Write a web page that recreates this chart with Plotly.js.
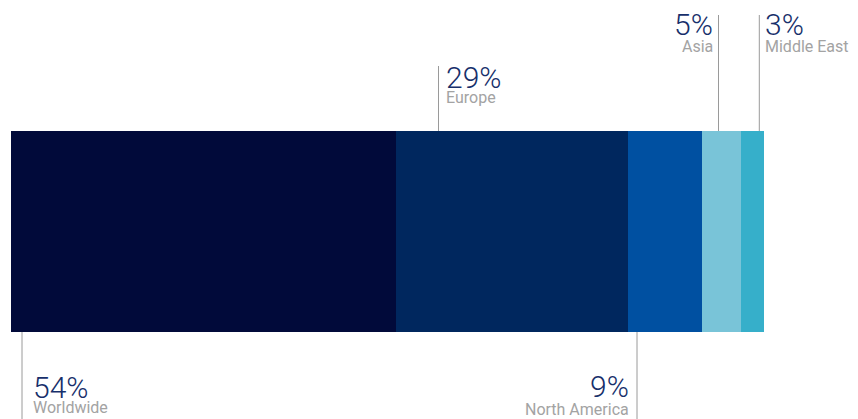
<!DOCTYPE html>
<html>
<head>
<meta charset="utf-8">
<script src="https://cdn.plot.ly/plotly-3.0.1.min.js"></script>
<style>html,body{margin:0;padding:0;background:#fff;}#chart{width:858px;height:419px;}</style>
</head>
<body>
<div id="chart"></div>
<script>
// ---- data ----
const regions = ['Worldwide', 'Europe', 'North America', 'Asia', 'Middle East'];
const shareLabels = ['54%', '29%', '9%', '5%', '3%'];
// segment widths as drawn in the picture (percent of bar)
const barValues = [51.1, 30.8, 9.8, 5.2, 3.1];
const barColors = ['#010a3a', '#00275e', '#0050a1', '#79c4d8', '#36afca'];

// ---- layout helpers (pixel placement of callouts) ----
const W = 858, H = 419;
const ML = 11, MR = 94;
const plotW = W - ML - MR;
const px2x = px => (px - ML) / plotW;     // paper x
const py2y = py => (H - py) / H;          // paper y (margins t=b=0)

// callout config: leader line x, line y-range, text side, anchor x, number center y, label center y
const callouts = [
  {lx: 22,    y0: 332, y1: 419, side: 'left',  tx: 31,  ny: 387, ly: 407.5},
  {lx: 438.5, y0: 66,  y1: 131, side: 'left',  tx: 444, ny: 77,  ly: 98},
  {lx: 637,   y0: 332, y1: 419, side: 'right', tx: 631, ny: 386.5, ly: 409.5},
  {lx: 718.5, y0: 15,  y1: 131, side: 'right', tx: 715, ny: 24.5, ly: 46.5},
  {lx: 759.3, y0: 15,  y1: 131, side: 'left',  tx: 763, ny: 24.5, ly: 46.5}
];

const traces = regions.map((r, i) => ({
  type: 'bar',
  orientation: 'h',
  name: r,
  y: ['share'],
  x: [barValues[i]],
  marker: {color: barColors[i], line: {width: 0}},
  hoverinfo: 'name+x'
}));

const shapes = [];
const annotations = [];
callouts.forEach((c, i) => {
  shapes.push({
    type: 'line', xref: 'paper', yref: 'paper',
    x0: px2x(c.lx), x1: px2x(c.lx), y0: py2y(c.y0), y1: py2y(c.y1),
    line: {color: '#9a9a9a', width: 1}
  });
  annotations.push({
    xref: 'paper', yref: 'paper', x: px2x(c.tx), y: py2y(c.ny),
    xanchor: c.side, yanchor: 'middle', showarrow: false,
    text: shareLabels[i],
    font: {family: 'Roboto, "Liberation Sans", sans-serif', size: 30, weight: 300, color: '#172f6b'}
  });
  annotations.push({
    xref: 'paper', yref: 'paper', x: px2x(c.tx), y: py2y(c.ly),
    xanchor: c.side, yanchor: 'middle', showarrow: false,
    text: regions[i],
    font: {family: 'Roboto, "Liberation Sans", sans-serif', size: 16, color: '#a3a3a3'}
  });
});

const layout = {
  width: W, height: H,
  margin: {l: ML, r: MR, t: 0, b: 0, pad: 0},
  paper_bgcolor: '#ffffff', plot_bgcolor: '#ffffff',
  barmode: 'stack', bargap: 0,
  showlegend: false,
  xaxis: {range: [0, 100], visible: false, fixedrange: true},
  yaxis: {domain: [87 / H, 288 / H], visible: false, fixedrange: true},
  shapes: shapes,
  annotations: annotations
};

Plotly.newPlot('chart', traces, layout, {displayModeBar: false, staticPlot: true});
</script>
</body>
</html>
